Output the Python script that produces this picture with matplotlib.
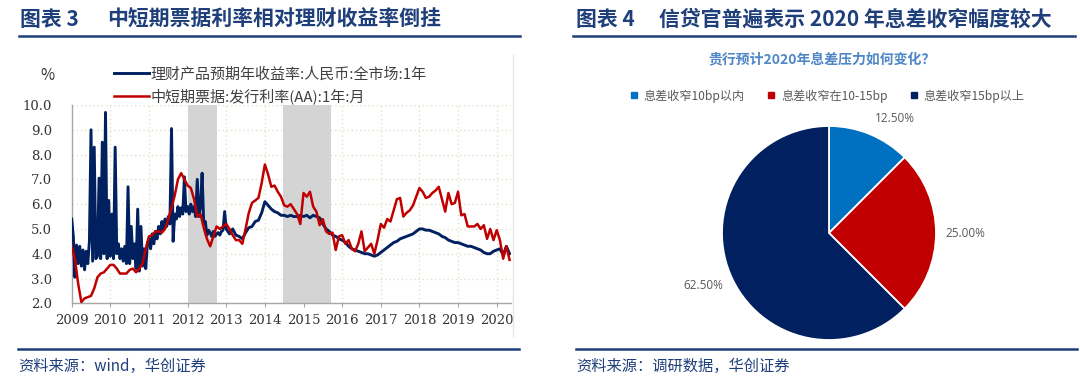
import numpy as np
import matplotlib
matplotlib.use("Agg")
import matplotlib.pyplot as plt
from matplotlib.lines import Line2D

plt.rcParams['font.family'] = ['Noto Sans CJK SC', 'DejaVu Sans']

# --------------------------------------------------------------------
### DATA
# --------------------------------------------------------------------

# red: 中短期票据发行利率(AA) 1年, monthly from 2009-01
red_vals = [
    4.3, 3.8, 2.8, 2.05, 2.2, 2.25, 2.3, 2.6, 3.05, 3.2, 3.25, 3.4,      # 2009
    3.55, 3.55, 3.4, 3.2, 3.2, 3.2, 3.35, 3.4, 3.25, 3.4, 3.6, 4.2,      # 2010
    4.7, 4.75, 4.9, 4.9, 4.85, 5.0, 5.4, 5.85, 6.35, 7.0, 7.25, 7.0,     # 2011
    6.75, 6.65, 6.2, 5.5, 5.6, 5.05, 4.6, 4.3, 4.7, 5.1, 5.0, 5.1,       # 2012
    5.2, 5.0, 4.75, 4.55, 4.55, 4.4, 5.0, 5.65, 6.05, 6.15, 6.25, 6.85,  # 2013
    7.6, 7.2, 6.7, 6.75, 6.5, 6.3, 5.95, 5.9, 6.0, 5.8, 5.6, 5.2,        # 2014
    6.45, 6.3, 6.5, 5.9, 5.7, 5.15, 5.4, 4.9, 4.8, 4.85, 4.15, 4.7,      # 2015
    4.75, 4.4, 4.55, 4.2, 4.1, 4.4, 4.9, 4.1, 4.25, 4.4, 4.0, 4.55,      # 2016
    5.2, 5.05, 5.4, 5.3, 5.75, 6.2, 6.25, 5.5, 5.65, 5.75, 5.95, 6.3,    # 2017
    6.65, 6.5, 6.25, 6.3, 6.45, 6.55, 6.7, 6.2, 5.7, 6.45, 6.0, 6.05,    # 2018
    6.5, 5.55, 5.6, 5.1, 5.1, 5.1, 5.2, 5.0, 5.15, 4.6, 5.0, 4.55,       # 2019
    4.95, 4.55, 3.8, 4.3, 3.75,                                           # 2020
]

# blue: 理财产品预期年收益率 1年, half-monthly 2009-2012
blue_early = [
    5.4, 4.7, 3.05, 4.35, 3.6, 4.3, 3.5, 4.15, 3.35, 4.1, 3.6, 4.5,      # 2009 H1
    9.0, 3.7, 8.3, 3.8, 3.9, 7.05, 3.8, 8.5, 4.0, 9.7, 3.8, 6.15,        # 2009 H2
    3.9, 5.6, 3.8, 8.3, 4.0, 4.4, 3.8, 4.2, 3.7, 4.3, 3.6, 6.7,          # 2010 H1
    3.6, 5.1, 3.8, 4.4, 3.4, 5.8, 3.3, 5.1, 3.5, 4.2, 3.4, 4.4,          # 2010 H2
    4.6, 4.2, 4.8, 4.4, 4.9, 4.6, 5.1, 4.8, 5.3, 5.0, 5.4, 5.1,          # 2011 H1
    5.5, 5.2, 9.05, 4.5, 5.6, 5.4, 5.9, 5.5, 5.85, 5.6, 7.1, 5.7,        # 2011 H2
    5.9, 5.6, 6.0, 5.7, 5.9, 5.5, 7.0, 5.5, 5.9, 7.25, 5.2, 5.3,         # 2012 H1
    4.75, 4.95, 4.85, 4.7, 4.9, 4.7, 4.8, 4.85, 4.75, 4.9, 4.95, 5.7,    # 2012 H2
]
# monthly from 2013-01
blue_late = [
    5.0, 4.8, 5.0, 4.75, 4.7, 4.6, 4.85, 5.05, 5.1, 5.3, 5.35, 5.65,     # 2013
    6.1, 5.95, 5.8, 5.7, 5.65, 5.55, 5.55, 5.5, 5.55, 5.5, 5.5, 5.55,    # 2014
    5.5, 5.55, 5.45, 5.55, 5.5, 5.45, 5.2, 5.0, 4.9, 4.75, 4.7, 4.6,     # 2015
    4.55, 4.45, 4.3, 4.2, 4.15, 4.1, 4.05, 4.0, 4.0, 3.95, 3.9, 3.95,    # 2016
    4.05, 4.15, 4.25, 4.35, 4.45, 4.5, 4.6, 4.65, 4.7, 4.75, 4.8, 4.9,   # 2017
    5.0, 5.0, 4.95, 4.95, 4.9, 4.85, 4.8, 4.7, 4.65, 4.55, 4.5, 4.45,    # 2018
    4.45, 4.4, 4.35, 4.3, 4.3, 4.25, 4.2, 4.15, 4.05, 4.0, 4.0, 4.1,     # 2019
    4.15, 4.2, 3.95, 4.3, 4.0,                                            # 2020
]

# shaded periods (decimal years)
shade_periods = [(2012.02, 2012.76), (2014.46, 2015.70)]

line_labels = ["理财产品预期年收益率:人民币:全市场:1年", "中短期票据:发行利率(AA):1年:月"]
year_ticks = list(range(2009, 2021))
y_ticks = [2.0, 3.0, 4.0, 5.0, 6.0, 7.0, 8.0, 9.0, 10.0]

# pie
pie_labels = ["息差收窄10bp以内", "息差收窄在10-15bp", "息差收窄15bp以上"]
pie_vals = [12.5, 25.0, 62.5]
pie_colors = ["#0070C0", "#C00000", "#002060"]

# --------------------------------------------------------------------
### STYLE
# --------------------------------------------------------------------
NAVY = "#1F3F7A"
BLUE_LINE = "#002060"
RED_LINE = "#C00000"
GRID = "#E2E2CC"
W, H = 1080, 382

fig = plt.figure(figsize=(W / 100, H / 100), dpi=100)

def fx(px):
    return px / W

def fy(py):
    return 1 - py / H

# --- left line chart ---
ax = fig.add_axes([fx(71.7), fy(303.3), fx(511 - 71.7), (303.3 - 105) / H])

red_x = 2009 + np.arange(len(red_vals)) / 12
blue_x = np.concatenate([2009 + np.arange(len(blue_early)) / 24,
                         2013 + np.arange(len(blue_late)) / 12])
blue_y = np.array(blue_early + blue_late)

for a, b in shade_periods:
    ax.axvspan(a, b, color="#D4D4D4", lw=0, zorder=1)

ax.plot(blue_x, blue_y, color=BLUE_LINE, lw=2.1, zorder=3, label=line_labels[0])
ax.plot(red_x, red_vals, color=RED_LINE, lw=1.8, zorder=4, label=line_labels[1])

ax.set_xlim(2009, 2020.37)
ax.set_ylim(2, 10)
ax.set_xticks(year_ticks)
ax.set_xticklabels([str(y) for y in year_ticks])
ax.set_yticks(y_ticks)
ax.set_yticklabels([f"{v:.1f}" for v in y_ticks])
for lab in ax.get_xticklabels() + ax.get_yticklabels():
    lab.set_fontfamily("DejaVu Serif")
    lab.set_fontsize(9.5)
    lab.set_color("#333333")
ax.tick_params(axis="x", length=3, color="#A6A6A6", pad=5)
ax.tick_params(axis="y", length=0, pad=14)
ax.grid(True, color=GRID, ls=(0, (1, 2)), lw=1.0, zorder=0)
ax.set_axisbelow(True)
for s in ["top", "right"]:
    ax.spines[s].set_visible(False)
for s in ["left", "bottom"]:
    ax.spines[s].set_color("#A6A6A6")
    ax.spines[s].set_linewidth(1.0)

leg = ax.legend(loc="center left", bbox_to_anchor=((114 - 71.7) / 439.3, 1.098),
                frameon=False, fontsize=10.8, handlelength=2.3, handletextpad=0.15,
                borderpad=0, borderaxespad=0, labelspacing=0.45)
for t in leg.get_texts():
    t.set_color("#404040")

fig.text(fx(47), fy(76), "%", fontsize=11, ha="center", va="center", color="#333333")

# faint frame line on the right of the left chart
fig.add_artist(Line2D([fx(513), fx(513)], [fy(55), fy(336)], color="#E6E6E6", lw=1.0))

# --- right pie chart ---
R = 107
cx, cy = 829, 233
lim = 1.5
side = 2 * lim * R
pax = fig.add_axes([fx(cx - side / 2), fy(cy + side / 2), side / W, side / H])
wedges, texts, autotexts = pax.pie(
    pie_vals, colors=pie_colors, startangle=90, counterclock=False,
    autopct="%.2f%%", pctdistance=1.27,
    wedgeprops=dict(edgecolor="white", linewidth=1.3))
for t in autotexts:
    t.set_color("#595959")
    t.set_fontsize(8.5)
    t.set_fontfamily(["Open Sans", "DejaVu Sans"])
# the small slice's label sits a bit lower, clear of the legend
ang = np.deg2rad(60)
autotexts[0].set_position((1.24 * np.cos(ang), 1.24 * np.sin(ang)))
pax.set_xlim(-lim, lim)
pax.set_ylim(-lim, lim)
pax.set_aspect("equal")
pax.axis("off")

fig.text(fx(821.6), fy(59), "贵行预计2020年息差压力如何变化？", fontsize=10, fontweight="bold",
         color="#4F86C6", ha="center", va="center")

handles = [Line2D([], [], marker="s", ls="none", color=c, markersize=4.2) for c in pie_colors]
pleg = fig.legend(handles, pie_labels, loc="center", bbox_to_anchor=(fx(827.7), fy(96)),
                  ncol=3, frameon=False, fontsize=8.7, handlelength=0.6, handletextpad=0.5,
                  columnspacing=1.9)
for t in pleg.get_texts():
    t.set_color("#595959")

# --- titles, rules and sources ---
fig.text(fx(20), fy(19), "图表 3", fontsize=15, fontweight="bold", color=NAVY, va="center")
fig.text(fx(107), fy(19), "中短期票据利率相对理财收益率倒挂", fontsize=15, fontweight="bold",
         color=NAVY, va="center")
fig.text(fx(576), fy(19), "图表 4", fontsize=15, fontweight="bold", color=NAVY, va="center")
fig.text(fx(659), fy(19), "信贷官普遍表示 2020 年息差收窄幅度较大", fontsize=15, fontweight="bold",
         color=NAVY, va="center")

for x0, x1 in [(19, 520), (573, 1075)]:
    fig.add_artist(Line2D([fx(x0), fx(x1)], [fy(36.3), fy(36.3)], color=NAVY, lw=1.8))
for x0, x1 in [(18, 519), (576, 1077)]:
    fig.add_artist(Line2D([fx(x0), fx(x1)], [fy(348.5), fy(348.5)], color=NAVY, lw=1.8))

fig.text(fx(18), fy(366), "资料来源：wind，华创证券", fontsize=11, style="italic",
         color=NAVY, va="center")
fig.text(fx(576), fy(366), "资料来源：调研数据，华创证券", fontsize=11, style="italic",
         color=NAVY, va="center")

fig.savefig("out.png", dpi=100)
